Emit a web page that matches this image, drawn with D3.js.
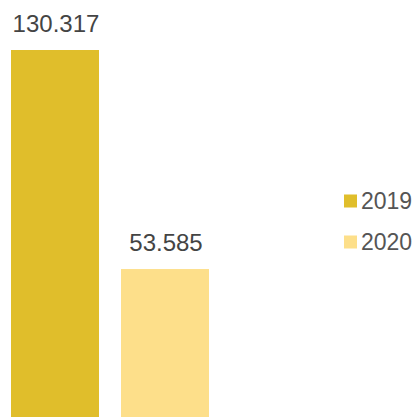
<!DOCTYPE html>
<html><head><meta charset="utf-8">
<script src="https://cdn.jsdelivr.net/npm/d3@7"></script>
<style>html,body{margin:0;padding:0;background:#fff;}svg{display:block;}</style>
</head><body>
<script>
const years = ["2019", "2020"];
const values = [130.317, 53.585];
const labels = ["130.317", "53.585"];
const colors = ["#E0BE2B", "#FDDF8A"];

const W = 418, H = 417;
const svg = d3.select("body").append("svg").attr("width", W).attr("height", H)
  .style("font-family", "'Liberation Sans', Arial, sans-serif");

const x = d3.scaleBand().domain(years).range([0, 220]).paddingInner(0.2).paddingOuter(0.1);
const y = d3.scaleLinear().domain([0, 130.317]).range([422, 50]);

svg.selectAll("rect.bar").data(years).join("rect").attr("class", "bar")
  .attr("x", d => x(d)).attr("width", x.bandwidth())
  .attr("y", (d, i) => y(values[i])).attr("height", (d, i) => y(0) - y(values[i]))
  .attr("fill", (d, i) => colors[i]);

svg.selectAll("text.lbl").data(years).join("text").attr("class", "lbl")
  .attr("x", d => x(d) + x.bandwidth() / 2 + 1)
  .attr("y", (d, i) => y(values[i]) - 18)
  .attr("text-anchor", "middle")
  .attr("font-size", 24).attr("fill", "#444")
  .text((d, i) => labels[i]);

const leg = svg.selectAll("g.leg").data(years).join("g").attr("class", "leg")
  .attr("transform", (d, i) => `translate(344, ${201 + i * 41})`);
leg.append("rect").attr("x", 0).attr("y", -6.5).attr("width", 13).attr("height", 13)
  .attr("fill", (d, i) => colors[i]);
leg.append("text").attr("x", 17).attr("y", 8).attr("font-size", 23).attr("fill", "#555")
  .text(d => d);
</script>
</body></html>
